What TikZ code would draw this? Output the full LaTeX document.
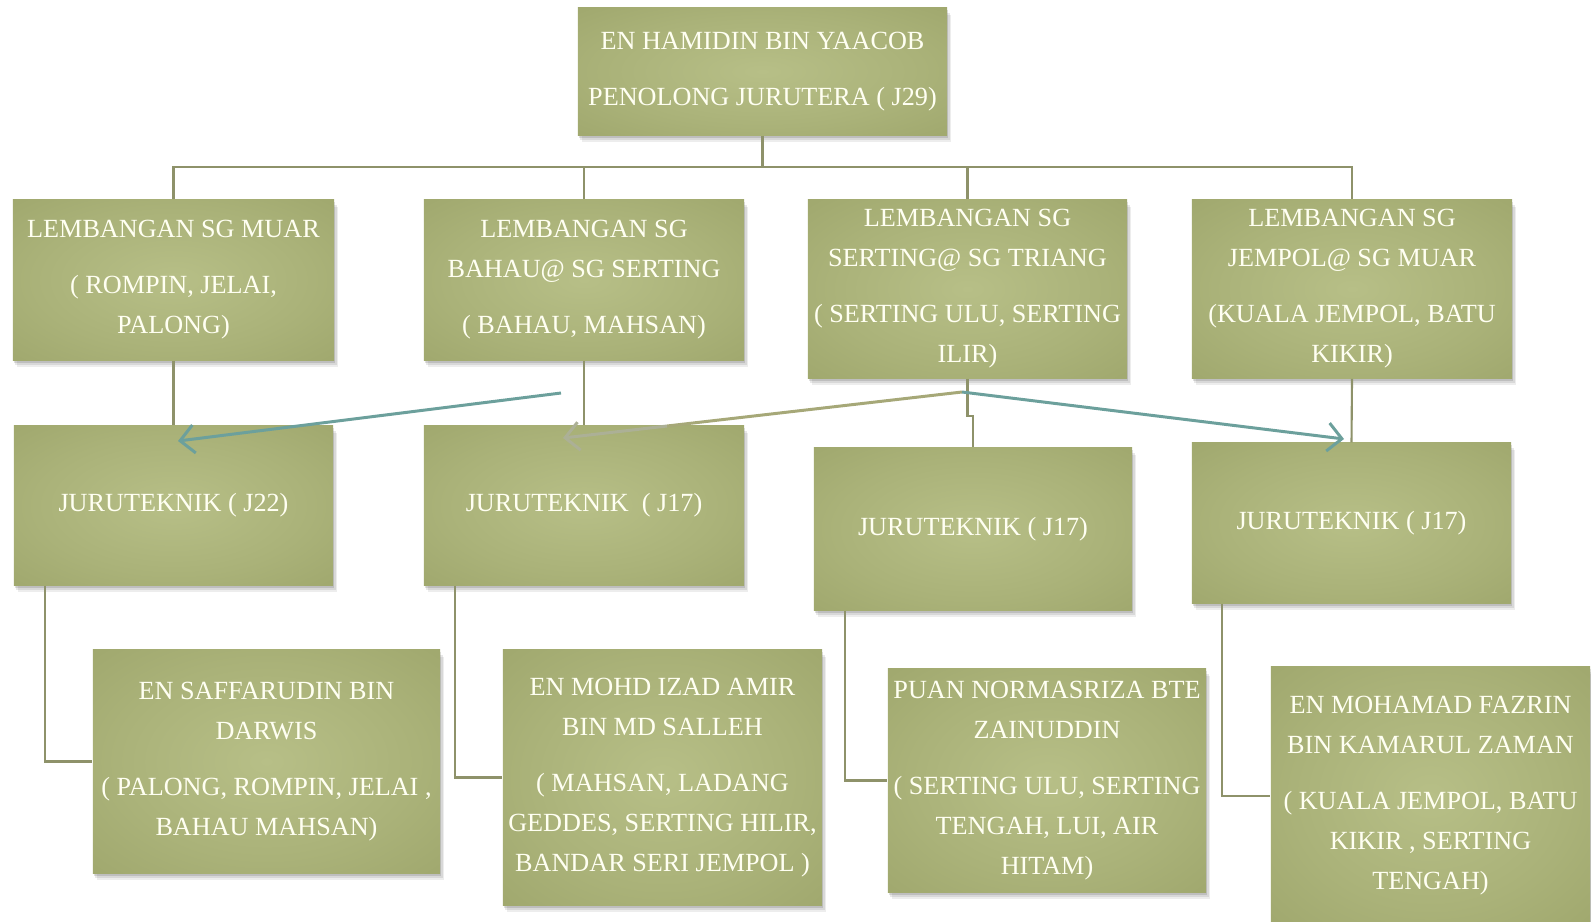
\documentclass[tikz,border=0pt]{standalone}
\usepackage{fontspec}
\setmainfont{Liberation Serif}
\usetikzlibrary{calc,shadows,arrows.meta}

\definecolor{boxlight}{RGB}{183,191,135}
\definecolor{boxdark}{RGB}{150,158,99}
\definecolor{boxcorner}{RGB}{138,146,88}
\definecolor{boxtext}{RGB}{255,255,242}
\definecolor{linkcol}{RGB}{142,146,106}
\definecolor{tealcol}{RGB}{108,160,156}
\definecolor{olivecol}{RGB}{166,168,120}
\definecolor{fadecol}{RGB}{172,176,150}

\pgfdeclareradialshading{oliveshade}{\pgfpoint{0bp}{0bp}}{color(0bp)=(boxlight); color(22bp)=(boxlight!60!boxdark); color(50bp)=(boxdark); color(71bp)=(boxcorner)}

\tikzset{
  orgbox/.style={shading=oliveshade, text=boxtext, align=center, inner sep=0pt,
    font=\fontsize{7.45}{11.4}\selectfont,
    drop shadow={shadow xshift=1.1pt, shadow yshift=-2pt, opacity=0.07, fill=black},
    drop shadow={shadow xshift=0.7pt, shadow yshift=-1.3pt, opacity=0.09, fill=black},
    drop shadow={shadow xshift=0.3pt, shadow yshift=-0.7pt, opacity=0.12, fill=black}},
  link/.style={draw=linkcol, line width=0.6pt},
  pointer/.style={line width=0.85pt, -{Straight Barb[length=4pt,width=8pt]}},
}

\begin{document}
\begin{tikzpicture}[x=0.01cm, y=-0.01cm]
\useasboundingbox (0,0) rectangle (1591,921);

% head
\node[orgbox, minimum width=3.69cm, minimum height=1.27cm] (head) at (762.5,71.5) {EN HAMIDIN BIN YAACOB\\[4.5pt]PENOLONG JURUTERA ( J29)};

% lembangan
\node[orgbox, minimum width=3.21cm, minimum height=1.6cm] (muar) at (173.5,280) {LEMBANGAN SG MUAR\\[4.5pt]( ROMPIN, JELAI,\\PALONG)};
\node[orgbox, minimum width=3.2cm, minimum height=1.6cm] (bahau) at (584,280) {LEMBANGAN SG\\BAHAU@ SG SERTING\\[4.5pt]( BAHAU, MAHSAN)};
\node[orgbox, minimum width=3.19cm, minimum height=1.78cm] (serting) at (967.5,289) {LEMBANGAN SG\\SERTING@ SG TRIANG\\[4.5pt]( SERTING ULU, SERTING\\ILIR)};
\node[orgbox, minimum width=3.2cm, minimum height=1.78cm] (jempol) at (1352,289) {LEMBANGAN SG\\JEMPOL@ SG MUAR\\[4.5pt](KUALA JEMPOL, BATU\\KIKIR)};

% juruteknik
\node[orgbox, minimum width=3.19cm, minimum height=1.59cm] (jt1) at (173.5,505.5) {JURUTEKNIK ( J22)};
\node[orgbox, minimum width=3.2cm, minimum height=1.59cm] (jt2) at (584,505.5) {JURUTEKNIK \ ( J17)};
\node[orgbox, minimum width=3.18cm, minimum height=1.62cm] (jt3) at (973,529) {JURUTEKNIK ( J17)};
\node[orgbox, minimum width=3.19cm, minimum height=1.6cm] (jt4) at (1351.5,523) {JURUTEKNIK ( J17)};

% staff
\node[orgbox, minimum width=3.47cm, minimum height=2.23cm] (saff) at (266.5,761.5) {EN SAFFARUDIN BIN\\DARWIS\\[4.5pt]( PALONG, ROMPIN, JELAI ,\\BAHAU MAHSAN)};
\node[orgbox, minimum width=3.19cm, minimum height=2.55cm] (izad) at (662.5,777.5) {EN MOHD IZAD AMIR\\BIN MD SALLEH\\[4.5pt]( MAHSAN, LADANG\\GEDDES, SERTING HILIR,\\BANDAR SERI JEMPOL )};
\node[orgbox, minimum width=3.18cm, minimum height=2.23cm] (norma) at (1047,780.5) {PUAN NORMASRIZA BTE\\ZAINUDDIN\\[4.5pt]( SERTING ULU, SERTING\\TENGAH, LUI, AIR\\HITAM)};
\node[orgbox, minimum width=3.19cm, minimum height=2.58cm] (fazrin) at (1430.5,796) {EN MOHAMAD FAZRIN\\BIN KAMARUL ZAMAN\\[4.5pt]( KUALA JEMPOL, BATU\\KIKIR , SERTING\\TENGAH)};

% links
\coordinate (bus) at ($(head.south)+(0,31)$);
\draw[link] (head.south) -- (bus);
\draw[link] (bus) -| (muar.north);
\draw[link] (bus) -| (bahau.north);
\draw[link] (bus) -| (serting.north);
\draw[link] (bus) -| (jempol.north);
\draw[link] (muar.south) -- (jt1.north);
\draw[link] (bahau.south) -- (jt2.north);
\draw[link] (serting.south) -- ++(0,37) -| (jt3.north);
\draw[link] (jempol.south) -- (jt4.north);
\draw[link] ($(jt1.south west)+(32,0)$) |- (saff.west);
\draw[link] ($(jt2.south west)+(32,0)$) |- (izad.west);
\draw[link] ($(jt3.south west)+(32,0)$) |- (norma.west);
\draw[link] ($(jt4.south west)+(31,0)$) |- (fazrin.west);

% arrows
\coordinate (apex) at (962,392);
\coordinate (bstart) at (561,393);
\coordinate (tipa) at (178,441);
\coordinate (tipb) at (563,438);
\coordinate (tipd) at (1344,439);
\coordinate (edgeb) at (667,426);
\draw[pointer, tealcol] (bstart) -- (tipa);
\draw[olivecol, line width=0.85pt] (apex) -- (edgeb);
\draw[pointer, fadecol] (edgeb) -- (tipb);
\draw[pointer, tealcol] (apex) -- (tipd);
\end{tikzpicture}
\end{document}
